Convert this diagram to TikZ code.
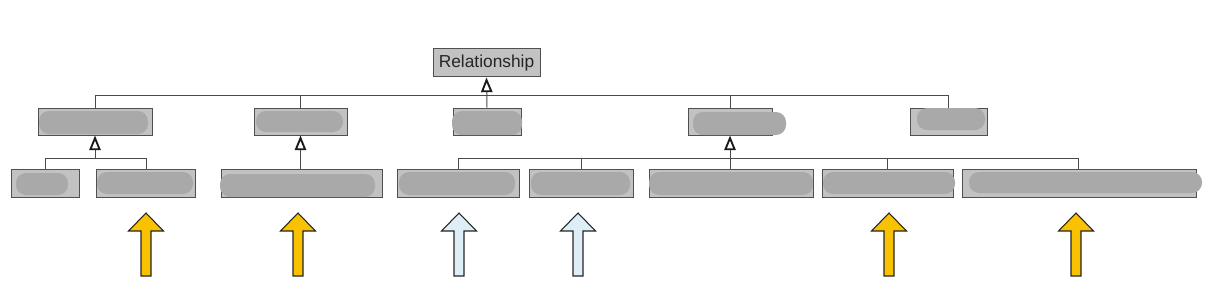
\documentclass[tikz,border=0pt]{standalone}
\usepackage{fontspec}
\setmainfont{Liberation Sans}
\usetikzlibrary{fit,arrows.meta}
\definecolor{boxfill}{HTML}{C2C2C2}
\definecolor{boxline}{HTML}{505050}
\definecolor{blobcol}{HTML}{A9A9A9}
\definecolor{linecol}{HTML}{4A4A4A}
\definecolor{yel}{HTML}{F8C200}
\definecolor{lblue}{HTML}{DDEEF7}
\tikzset{
  box/.style={draw=boxline, fill=boxfill, line width=0.75pt, inner sep=0pt},
  blob/.style={fill=blobcol, rounded corners=7.5pt},
  conn/.style={draw=linecol, line width=0.75pt},
  gen/.style={conn, -{Triangle[open, width=8.5pt, length=11pt, line width=1.4pt, color=black!90]}},
  bigarrow/.style={draw=black!85, line width=0.8pt, line join=miter},
}
\newcommand{\upblock}[2]{%
  \draw[bigarrow, fill=#2] (#1-5,276) -- (#1-5,231) -- (#1-17.5,231) -- (#1,213)
    -- (#1+17.5,231) -- (#1+5,231) -- (#1+5,276) -- cycle;}
\begin{document}
\begin{tikzpicture}[x=0.75pt, y=-0.75pt]
\useasboundingbox (0,0) rectangle (1206,296);
\fill[white] (0,0) rectangle (1206,296);

% top node
\node[box, fit={(433,49) (540,77)}] (rel) {};
\node[font=\fontsize{13}{15}\selectfont, text=black!85] at (rel.center) {Relationship};

% level 2
\node[box, fit={(38,108) (152,135)}] (b1) {};
\node[box, fit={(254,108) (347,135)}] (b2) {};
\node[box, fit={(453,108) (521,135)}] (b3) {};
\node[box, fit={(688,108) (772,135)}] (b4) {};
\node[box, fit={(910,108) (987,135)}] (b5) {};

% level 3
\node[box, fit={(11,169) (79,197)}] (c1) {};
\node[box, fit={(96,169) (195,197)}] (c2) {};
\node[box, fit={(221,169) (382,197)}] (c3) {};
\node[box, fit={(397,169) (519,197)}] (c4) {};
\node[box, fit={(529,169) (633,197)}] (c5) {};
\node[box, fit={(649,169) (813,197)}] (c6) {};
\node[box, fit={(822,169) (953,197)}] (c7) {};
\node[box, fit={(962,169) (1196,197)}] (c8) {};

% redaction blobs
\fill[blob] (39,111) rectangle (148,134);
\fill[blob] (256,111) rectangle (343,132);
\fill[blob] (452,111) rectangle (522,135);
\fill[blob] (693,112) rectangle (786,135);
\fill[blob] (917,108) rectangle (985,130);
\fill[blob] (16,173) rectangle (68,195);
\fill[blob] (97,172) rectangle (193,194);
\fill[blob] (220,174) rectangle (375,197);
\fill[blob] (399,172) rectangle (515,195);
\fill[blob] (531,172) rectangle (630,195);
\fill[blob] (649,172) rectangle (813,195);
\fill[blob] (823,172) rectangle (955,194);
\fill[blob] (969,172) rectangle (1202,193);

% bus coordinates
\coordinate (bus) at (0,96);
\coordinate (sb) at (0,158);

% top level connections
\draw[gen] (b3.north) -- (rel.south);
\draw[conn] (b1.north) -- (b1.north |- bus) -- (b5.north |- bus) -- (b5.north);
\draw[conn] (b2.north) -- (b2.north |- bus);
\draw[conn] (b4.north) -- (b4.north |- bus);

% b1 subtree
\draw[conn] (c1.north -| 45,0) -- (45,158) -- (146,158) -- (c2.north -| 146,0);
\draw[gen] (b1.south |- sb) -- (b1.south);

% b2 subtree
\draw[gen] (c3.north -| b2.south) -- (b2.south);

% b4 subtree
\draw[conn] (c4.north -| 458,0) -- (458,158) -- (1078,158) -- (c8.north -| 1078,0);
\draw[conn] (c5.north -| 581,0) -- (581,158);
\draw[conn] (c7.north -| 887,0) -- (887,158);
\draw[gen] (c6.north -| b4.south) -- (b4.south);

% block arrows
\upblock{146}{yel}
\upblock{298}{yel}
\upblock{459}{lblue}
\upblock{578}{lblue}
\upblock{889}{yel}
\upblock{1076}{yel}
\end{tikzpicture}
\end{document}
